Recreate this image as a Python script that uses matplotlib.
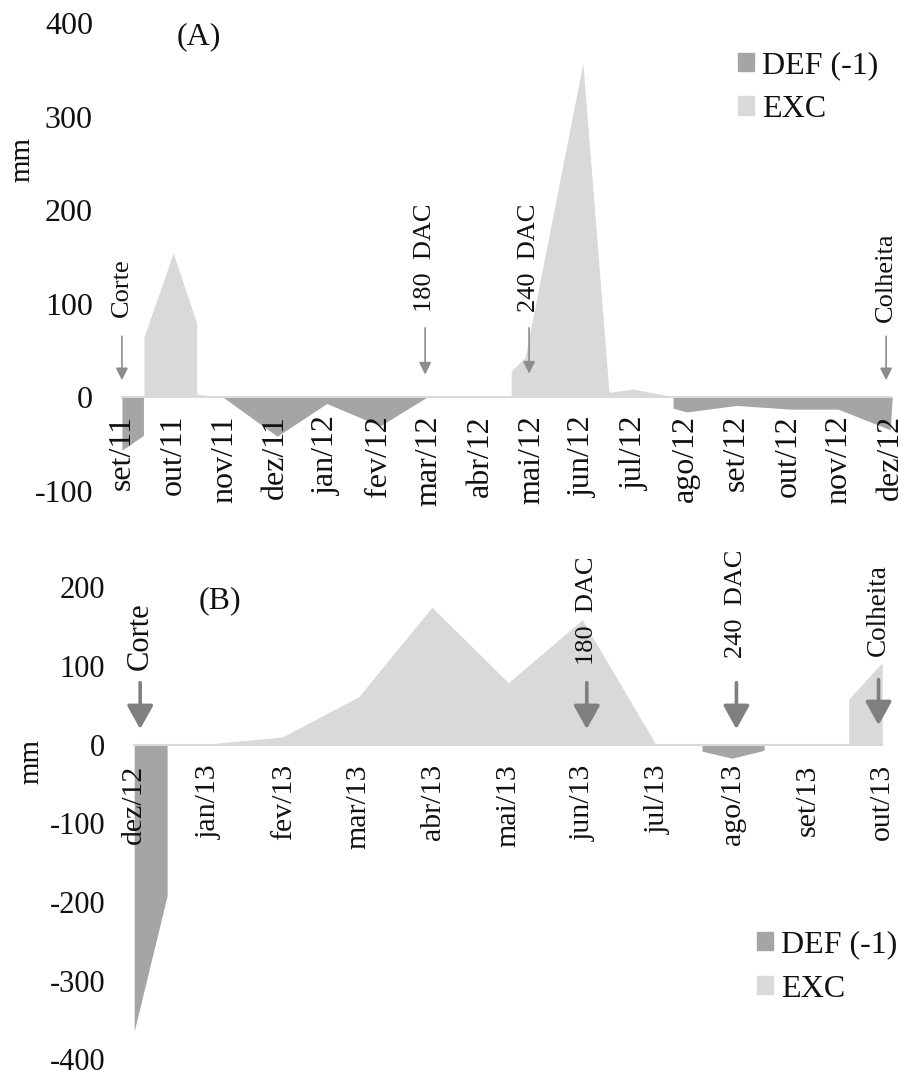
import matplotlib
matplotlib.use('Agg')
import matplotlib.pyplot as plt
from matplotlib.patches import Patch

plt.rcParams['font.family'] = ['Liberation Serif', 'DejaVu Serif']
plt.rcParams['axes.unicode_minus'] = False

# ---- data (A) set/11 - dez/12 ----
months_a = ['set/11', 'out/11', 'nov/11', 'dez/11', 'jan/12', 'fev/12', 'mar/12', 'abr/12',
            'mai/12', 'jun/12', 'jul/12', 'ago/12', 'set/12', 'out/12', 'nov/12', 'dez/12']
# x in month index (0 = set/11), repeated x gives the vertical edges
exc_a_x = [0.43, 0.43, 1.0, 1.46, 1.46, 2.0, 6.0, 7.0, 7.6, 7.6, 7.87, 9.0, 9.51, 9.98, 10.8]
exc_a_y = [0, 64, 154, 79, 3, 0, 0, 1, 1, 28, 42, 357, 5, 8.5, 0]
def_a_x = [0, 0, 0.42, 0.42, 1.97, 3.03, 4.0, 5.04, 5.96,
           10.76, 10.76, 11.03, 12.0, 13.05, 13.98, 15.0, 15.04]
def_a_y = [0, -57, -41, 0, 0, -42, -7, -31, 0,
           0, -12, -16, -9, -13, -13, -35, 0]

# ---- data (B) dez/12 - out/13 ----
months_b = ['dez/12', 'jan/13', 'fev/13', 'mar/13', 'abr/13', 'mai/13',
            'jun/13', 'jul/13', 'ago/13', 'set/13', 'out/13']
exc_b_x = [0.44, 0.98, 1.98, 3.0, 3.98, 5.0, 5.99, 6.97, 9.55, 9.55, 10.0, 10.0]
exc_b_y = [0, 1, 10, 61, 175, 79, 159, 1, 1, 58, 105, 0]
def_b_x = [0, 0, 0.44, 0.44, 7.59, 7.59, 7.99, 8.42, 8.42]
def_b_y = [0, -364, -192, 0, 0, -8, -17, -7, 0]

# events (label, month index)
events_a = ['Corte', '180  DAC', '240  DAC', 'Colheita']
events_a_x = [0, 5.92, 7.95, 14.92]
events_b = ['Corte', '180  DAC', '240  DAC', 'Colheita']
events_b_x = [0.08, 6.05, 8.05, 9.95]

c_def = '#a5a5a5'
c_exc = '#d9d9d9'
c_txt = '#111111'

fig = plt.figure(figsize=(9.04, 10.76), dpi=100)
W, H = 904.0, 1076.0

# axes placed in pixels: left, right, top, bottom
axA = fig.add_axes([104 / W, 1 - 490.5 / H, (903 - 104) / W, (490.5 - 23) / H])
axB = fig.add_axes([108 / W, 1 - 1059.5 / H, (901 - 108) / W, (1059.5 - 587.5) / H])

for ax in (axA, axB):
    for s in ax.spines.values():
        s.set_visible(False)
    ax.spines['bottom'].set_position(('data', 0))
    ax.set_facecolor('none')

# ---- panel A ----
axA.fill_between(def_a_x, def_a_y, 0, color=c_def, lw=0)
axA.fill_between(exc_a_x, exc_a_y, 0, color=c_exc, lw=0)
axA.plot([0, len(months_a) - 1], [0, 0], color='#d9d9d9', lw=1.5, zorder=3)
axA.set_xlim(-0.35, 15.25)
axA.set_ylim(-100, 400)
axA.set_yticks([-100, 0, 100, 200, 300, 400])
axA.set_xticks(range(len(months_a)))
axA.set_xticklabels(months_a, rotation=90, fontsize=23, color=c_txt)
axA.tick_params(axis='x', length=0, pad=13)
axA.tick_params(axis='y', length=0, pad=8, labelsize=23, labelcolor=c_txt)

arr_a = dict(arrowstyle='-|>,head_length=0.6,head_width=0.3', color='#8c8c8c',
             lw=1.2, mutation_scale=12, shrinkA=0, shrinkB=0)
text_a_y = [86, 91, 91, 80]
arrow_a_top = [65, 74, 74, 65]
arrow_a_tip = [18, 24, 25, 18]
for lab, xm, ty, a0, a1 in zip(events_a, events_a_x, text_a_y, arrow_a_top, arrow_a_tip):
    axA.annotate('', xy=(xm, a1), xytext=(xm, a0), arrowprops=arr_a)
    axA.text(xm, ty, lab, rotation=90, ha='center', va='bottom', fontsize=19, color=c_txt)

axA.text(1.5, 385, '(A)', ha='center', va='center', fontsize=23, color=c_txt)
legA = axA.legend(handles=[Patch(color=c_def, label='DEF (-1)'), Patch(color=c_exc, label='EXC')],
                  loc='upper left', bbox_to_anchor=(738 / W, 1 - 51.5 / H),
                  bbox_transform=fig.transFigure, frameon=False, fontsize=23,
                  handlelength=0.5, handleheight=0.5, handletextpad=0.25,
                  borderpad=0, borderaxespad=0, labelspacing=0.45)
for t in legA.get_texts():
    t.set_color(c_txt)

# ---- panel B ----
axB.fill_between(def_b_x, def_b_y, 0, color=c_def, lw=0)
axB.fill_between(exc_b_x, exc_b_y, 0, color=c_exc, lw=0)
axB.plot([0, len(months_b) - 1], [0, 0], color='#d9d9d9', lw=1.5, zorder=3)
axB.set_xlim(-0.35, 10.25)
axB.set_ylim(-400, 200)
axB.set_yticks([-400, -300, -200, -100, 0, 100, 200])
axB.set_xticks(range(len(months_b)))
axB.set_xticklabels(months_b, rotation=90, fontsize=21.5, color=c_txt)
axB.tick_params(axis='x', length=0, pad=14)
axB.tick_params(axis='y', length=0, pad=2, labelsize=22, labelcolor=c_txt)

arr_b = dict(arrowstyle='-|>,head_length=0.72,head_width=0.4', color='#7f7f7f',
             lw=2.6, mutation_scale=20, shrinkA=0, shrinkB=0)
text_b_y = [95, 102, 111, 113]
text_b_size = [22, 19, 19, 19.5]
arrow_b_top = [79, 79, 79, 83]
arrow_b_tip = [20, 20, 20, 25]
for lab, xm, ty, fs, a0, a1 in zip(events_b, events_b_x, text_b_y, text_b_size, arrow_b_top, arrow_b_tip):
    axB.annotate('', xy=(xm, a1), xytext=(xm, a0), arrowprops=arr_b)
    axB.text(xm, ty, lab, rotation=90, ha='center', va='bottom', fontsize=fs, color=c_txt)

axB.text(1.15, 183, '(B)', ha='center', va='center', fontsize=23, color=c_txt)
legB = axB.legend(handles=[Patch(color=c_def, label='DEF (-1)'), Patch(color=c_exc, label='EXC')],
                  loc='upper left', bbox_to_anchor=(757 / W, 1 - 930.5 / H),
                  bbox_transform=fig.transFigure, frameon=False, fontsize=23,
                  handlelength=0.5, handleheight=0.5, handletextpad=0.25,
                  borderpad=0, borderaxespad=0, labelspacing=0.47)
for t in legB.get_texts():
    t.set_color(c_txt)

# y labels
fig.text(22 / W, 1 - 160 / H, 'mm', rotation=90, ha='center', va='center', fontsize=21, color=c_txt)
fig.text(31 / W, 1 - 762 / H, 'mm', rotation=90, ha='center', va='center', fontsize=21, color=c_txt)

fig.savefig('out.png', dpi=100)
